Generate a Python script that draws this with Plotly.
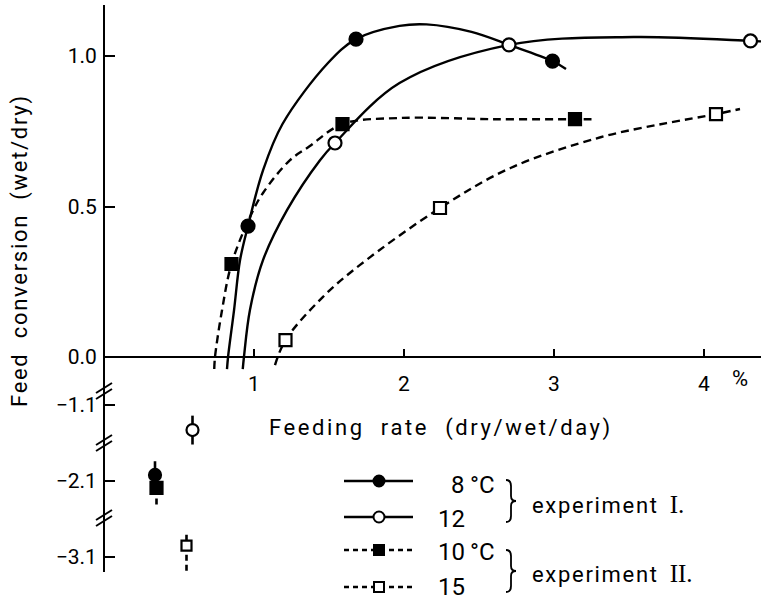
import plotly.graph_objects as go

W, H = 761, 603
FONT = "Roboto"

# ---- measured points: feeding rate (% dry/wet/day) vs feed conversion ----
# Experiment I
rate_8 = [0.96, 1.68, 2.99]
conv_8 = [0.435, 1.056, 0.983]
rate_12 = [1.54, 2.70, 4.31]
conv_12 = [0.711, 1.037, 1.05]
# Experiment II
rate_10 = [0.85, 1.59, 3.14]
conv_10 = [0.309, 0.774, 0.79]
rate_15 = [1.21, 2.24, 4.08]
conv_15 = [0.056, 0.495, 0.807]

# ---- hand-fitted curves: extra guide points between / beyond measurements ----
guide_8_x = [0.82, 0.827, 0.867, 0.907, 1.06, 1.19, 1.49, 1.97, 2.15, 2.45, 2.70, 3.08]
guide_8_y = [-0.04, 0.0, 0.156, 0.322, 0.62, 0.774, 0.975, 1.10, 1.105, 1.08, 1.037, 0.957]
guide_12_x = [0.925, 0.933, 0.973, 1.06, 1.22, 1.44, 1.97, 3.53, 4.40]
guide_12_y = [-0.04, 0.0, 0.156, 0.322, 0.488, 0.654, 0.91, 1.063, 1.048]
guide_10_x = [0.735, 0.74, 0.787, 0.973, 1.06, 1.24, 1.37, 1.97, 2.60, 3.25]
guide_10_y = [-0.04, 0.0, 0.156, 0.465, 0.545, 0.654, 0.70, 0.794, 0.79, 0.79]
guide_15_x = [1.14, 1.46, 1.707, 2.71, 3.31, 3.75, 4.24]
guide_15_y = [-0.027, 0.20, 0.306, 0.628, 0.73, 0.777, 0.824]

# ---- low feeding rate (starvation) points on the broken lower scale ----
low_rate = {"8": 0.34, "12": 0.59, "10": 0.35, "15": 0.55}
low_conv = {"8": -2.02, "12": -1.43, "10": -2.19, "15": -2.95}
low_err_up = {"8": 0.18, "12": 0.19, "10": 0.18, "15": 0.17}
low_err_dn = {"8": 0.18, "12": 0.19, "10": 0.22, "15": 0.33}

x_ticks = [1, 2, 3, 4]
y_ticks = [0.0, 0.5, 1.0]
y_tick_text = ["0.0", "0.5", "1.0"]
y2_ticks = [-1.1, -2.1, -3.1]
y2_tick_text = ["\u22121.1", "\u22122.1", "\u22123.1"]


def px(x):
    return x / W


def py(y):
    return 1 - y / H


def merged(xs1, ys1, xs2, ys2):
    pts = sorted(zip(list(xs1) + list(xs2), list(ys1) + list(ys2)))
    return [p[0] for p in pts], [p[1] for p in pts]


def spaced(text, sp):
    return f"<span style='letter-spacing:{sp}px'>{text}</span>"


SOLID = "solid"
DASHED = "8px,5px"

series = [
    # key, rate, conv, guide x, guide y, symbol, dash
    ("8", rate_8, conv_8, guide_8_x, guide_8_y, "circle", SOLID),
    ("12", rate_12, conv_12, guide_12_x, guide_12_y, "circle-open", SOLID),
    ("10", rate_10, conv_10, guide_10_x, guide_10_y, "square", DASHED),
    ("15", rate_15, conv_15, guide_15_x, guide_15_y, "square-open", DASHED),
]

fig = go.Figure()

# fitted curves
for key, rx, cy, gx, gy, sym, dash in series:
    cx, cyy = merged(rx, cy, gx, gy)
    fig.add_trace(go.Scatter(
        x=cx, y=cyy, mode="lines", xaxis="x", yaxis="y",
        line=dict(color="black", width=2.4, dash=dash, shape="spline", smoothing=1.0),
        hoverinfo="skip", showlegend=False))

# measured points
for key, rx, cy, gx, gy, sym, dash in series:
    size = 13 if "circle" in sym else 12
    fig.add_trace(go.Scatter(
        x=rx, y=cy, mode="markers", xaxis="x", yaxis="y",
        marker=dict(symbol=sym.replace("-open", ""), size=size,
                    color="white" if "open" in sym else "black",
                    line=dict(color="black", width=2.2)),
        showlegend=False, name=key + " \u00b0C"))

# lower broken scale: error bars then markers
for key, rx, cy, gx, gy, sym, dash in series:
    xv, yv = low_rate[key], low_conv[key]
    fig.add_trace(go.Scatter(
        x=[xv, xv], y=[yv - low_err_dn[key], yv + low_err_up[key]],
        mode="lines", xaxis="x", yaxis="y2",
        line=dict(color="black", width=2.6, dash="solid" if dash == SOLID else "6px,4px"),
        hoverinfo="skip", showlegend=False))
for key, rx, cy, gx, gy, sym, dash in series:
    size = 12 if sym != "square-open" else 10
    fig.add_trace(go.Scatter(
        x=[low_rate[key]], y=[low_conv[key]], mode="markers", xaxis="x", yaxis="y2",
        marker=dict(symbol=sym.replace("-open", ""), size=size,
                    color="white" if "open" in sym else "black",
                    line=dict(color="black", width=2.2)),
        showlegend=False))

# ---- key (drawn on a full-page overlay in pixel units) ----
key_rows = [
    # y of line, symbol, dash, number, degree sign, text offset
    (481, "circle", SOLID, "8", True, 4),
    (517, "circle-open", SOLID, "12", False, 2),
    (550, "square", "5px,4px", "10", True, 2),
    (587, "square-open", "5px,4px", "15", False, 0),
]
for ky, sym, dash, num, deg, off in key_rows:
    fig.add_trace(go.Scatter(
        x=[344, 413], y=[ky, ky], mode="lines", xaxis="x3", yaxis="y3",
        line=dict(color="black", width=2.4, dash=dash),
        hoverinfo="skip", showlegend=False))
    fig.add_trace(go.Scatter(
        x=[379], y=[ky], mode="markers", xaxis="x3", yaxis="y3",
        marker=dict(symbol=sym.replace("-open", ""), size=11 if "circle" in sym else 10,
                    color="white" if "open" in sym else "black",
                    line=dict(color="black", width=2)),
        hoverinfo="skip", showlegend=False))

annotations = []
for ky, sym, dash, num, deg, off in key_rows:
    annotations.append(dict(
        x=px(467), y=py(ky + off), xref="paper", yref="paper", text=num,
        xanchor="right", yanchor="middle", showarrow=False,
        font=dict(family=FONT, size=24, color="black")))
    if deg:
        annotations.append(dict(
            x=px(468), y=py(ky + off), xref="paper", yref="paper", text="\u00b0C",
            xanchor="left", yanchor="middle", showarrow=False,
            font=dict(family=FONT, size=24, color="black")))

roman = "<span style='font-family:Liberation Serif;font-size:25px'>{}</span>"
annotations += [
    dict(x=px(530), y=py(504), xref="paper", yref="paper",
         text=spaced("experiment", 1.7) + "  " + roman.format("I."),
         xanchor="left", yanchor="middle", showarrow=False,
         font=dict(family=FONT, size=22, color="black")),
    dict(x=px(530), y=py(573), xref="paper", yref="paper",
         text=spaced("experiment", 1.7) + "  " + roman.format("II."),
         xanchor="left", yanchor="middle", showarrow=False,
         font=dict(family=FONT, size=22, color="black")),
    # axis titles
    dict(x=px(441), y=py(428), xref="paper", yref="paper",
         text=spaced("Feeding  rate  (dry/wet/day)", 2.6), xanchor="center",
         yanchor="middle", showarrow=False,
         font=dict(family=FONT, size=22, color="black")),
    dict(x=px(20), y=py(251), xref="paper", yref="paper",
         text=spaced("Feed  conversion  (wet/dry)", 1.7), textangle=-90,
         xanchor="center", yanchor="middle", showarrow=False,
         font=dict(family=FONT, size=22, color="black")),
    dict(x=4.24, y=py(378), xref="x", yref="paper", text="%",
         xanchor="center", yanchor="middle", showarrow=False,
         font=dict(family=FONT, size=22, color="black")),
]

# braces next to the key
shapes = []


def brace(x, y0, y1):
    ym = (y0 + y1) / 2
    d = (f"M {px(x - 5)} {py(y0)} Q {px(x)} {py(y0)} {px(x)} {py(y0 + 6)} "
         f"L {px(x)} {py(ym - 5)} Q {px(x)} {py(ym)} {px(x + 5)} {py(ym)} "
         f"Q {px(x)} {py(ym)} {px(x)} {py(ym + 5)} "
         f"L {px(x)} {py(y1 - 6)} Q {px(x)} {py(y1)} {px(x - 5)} {py(y1)}")
    return dict(type="path", path=d, xref="paper", yref="paper",
                line=dict(color="black", width=1.8))


shapes.append(brace(511, 480, 522))
shapes.append(brace(511, 550, 592))

# break marks on the vertical axis
for yb in [391, 443, 518]:
    for off in [-3, 3]:
        shapes.append(dict(
            type="line", xref="paper", yref="paper",
            x0=px(96), y0=py(yb + off + 5), x1=px(112), y1=py(yb + off - 5),
            line=dict(color="black", width=2)))

axis_font = dict(family=FONT, size=21, color="black")

fig.update_layout(
    width=W, height=H,
    margin=dict(l=0, r=0, t=0, b=0),
    paper_bgcolor="white", plot_bgcolor="rgba(0,0,0,0)",
    showlegend=False,
    xaxis=dict(domain=[px(104), 1], range=[0, (W - 104) / 150], anchor="free",
               position=py(357), showline=True, linecolor="black", linewidth=2,
               ticks="inside", ticklen=7, tickwidth=2, tickcolor="black",
               tickvals=x_ticks, ticktext=[str(v) for v in x_ticks],
               tickfont=axis_font, ticklabelstandoff=8,
               showgrid=False, zeroline=False),
    yaxis=dict(domain=[py(370), py(5)], range=[(357 - 370) / 301, (357 - 5) / 301],
               anchor="free", position=px(104), showline=True, linecolor="black",
               linewidth=2, ticks="inside", ticklen=10, tickwidth=2, tickcolor="black",
               tickvals=y_ticks, ticktext=y_tick_text, tickfont=axis_font,
               ticklabelstandoff=2, showgrid=False, zeroline=False),
    yaxis2=dict(domain=[py(572), py(360)],
                range=[-1.1 - (572 - 405) / 76, -1.1 + (405 - 360) / 76],
                anchor="free", position=px(104), showline=True, linecolor="black",
                linewidth=2, ticks="inside", ticklen=10, tickwidth=2, tickcolor="black",
                tickvals=y2_ticks, ticktext=y2_tick_text, tickfont=axis_font,
                ticklabelstandoff=2, showgrid=False, zeroline=False),
    xaxis3=dict(domain=[0, 1], range=[0, W], anchor="y3", visible=False),
    yaxis3=dict(domain=[0, 1], range=[H, 0], anchor="x3", visible=False),
    annotations=annotations,
    shapes=shapes,
)

fig.write_html("out.html")
